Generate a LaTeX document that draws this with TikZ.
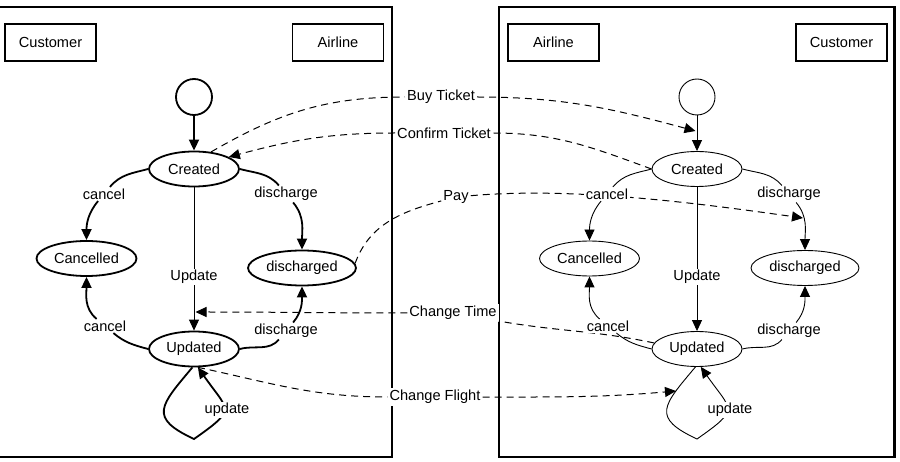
\documentclass[tikz,border=0pt]{standalone}
\usepackage{fontspec}
\setmainfont{Liberation Sans}
\usetikzlibrary{arrows.meta,shapes.geometric}
\begin{document}
\begin{tikzpicture}[x=1pt,y=1pt,
  every node/.style={font=\fontsize{14.6}{17}\selectfont},
  frame/.style={draw,line width=2.6pt},
  rolebox/.style={draw,line width=1.1pt,minimum width=91pt,minimum height=37pt,inner sep=0pt},
  stateL/.style={ellipse,draw,line width=1.8pt,minimum height=35pt,inner sep=0pt},
  stateR/.style={ellipse,draw,line width=0.9pt,minimum height=35pt,inner sep=0pt},
  initL/.style={circle,draw,line width=1.8pt,minimum size=36pt,inner sep=0pt},
  initR/.style={circle,draw,line width=0.9pt,minimum size=36pt,inner sep=0pt},
  tip/.style={-{Triangle[length=11pt,width=10pt]}},
  edgeL/.style={tip,line width=1.8pt},
  edgeR/.style={tip,line width=0.9pt},
  lab/.style={fill=white,inner sep=1.5pt},
  msg/.style={tip,dash pattern=on 7pt off 5pt,line width=1pt},
  msglab/.style={fill=white,inner sep=2pt}
]
\clip (0,0) rectangle (900,-462);
\fill[white] (0,0) rectangle (900,-462);
% frames
\draw[frame] (-5,-7) rectangle (392,-457);
\draw[frame] (499,-7) rectangle (894.5,-457);
% role boxes
\node[rolebox] (lcust) at (50.5,-42.5) {Customer};
\node[rolebox] (lair) at (338,-42.5) {Airline};
\node[rolebox] (rair) at (553.5,-42.5) {Airline};
\node[rolebox] (rcust) at (841.5,-42.5) {Customer};
% left states
\node[initL] (li) at (194,-97) {};
\node[stateL,minimum width=90pt] (lcr) at (194,-169) {Created};
\node[stateL,minimum width=100pt] (lca) at (86.5,-258.5) {Cancelled};
\node[stateL,minimum width=108pt] (ldi) at (302,-268) {discharged};
\node[stateL,minimum width=90pt] (lup) at (194,-349) {Updated};
% right states
\node[initR] (ri) at (697,-97) {};
\node[stateR,minimum width=90pt] (rcr) at (697,-169) {Created};
\node[stateR,minimum width=100pt] (rca) at (589.5,-258.5) {Cancelled};
\node[stateR,minimum width=108pt] (rdi) at (805,-268) {discharged};
\node[stateR,minimum width=90pt] (rup) at (697,-349) {Updated};
% message end points
\coordinate (btend) at (695.5,-131);
\coordinate (payend) at (803,-218);
\coordinate (ctend) at (195.5,-312);
\coordinate (cfend) at (676,-391);
% messages
\node[msglab] (bt) at (441,-97) {Buy Ticket};
\node[msglab] (ct) at (444,-133) {Confirm Ticket};
\node[msglab] (pay) at (456,-197) {Pay};
\node[msglab] (cti) at (453,-313) {Change Time};
\node[msglab] (cf) at (435,-397) {Change Flight};
\draw[msg] (lcr.45) to[out=30,in=180] (bt) to[out=0,in=165] (btend);
\draw[msg] (rcr.west) to[out=160,in=0] (ct) to[out=180,in=15] (lcr.19);
\draw[msg] (ldi.5) to[out=70,in=195] (pay) to[out=5,in=172,looseness=0.8] (payend);
\draw[msg] (rup.172) to[out=168,in=-10] (cti) to[out=180,in=0] (ctend);
\draw[msg] (lup.282) to[out=-12,in=180] (cf) to[out=0,in=185] (cfend);
% left solid edges
\draw[edgeL] (li) -- (lcr);
\draw[edgeR] (lcr) -- (lup);
\node[lab] (lupd) at (194,-277) {Update};
\node[lab] (lc1) at (104,-194) {cancel};
\node[lab] (ld1) at (286,-194) {discharge};
\node[lab] (lc2) at (105,-326) {cancel};
\node[lab] (ld2) at (286,-331) {discharge};
\draw[edgeL] (lcr.west) to[out=195,in=50] (lc1) to[out=230,in=90] (lca.north);
\draw[edgeL] (lcr.east) to[out=-15,in=130] (ld1) to[out=-50,in=90] (ldi.north);
\draw[edgeL] (lup.west) to[out=165,in=-40] (lc2) to[out=140,in=-90] (lca.south);
\draw[edgeL] (lup.east) to[out=15,in=-130] (ld2) to[out=50,in=-90] (ldi.south);
\coordinate (lbot) at (194,-439);
\draw[edgeL] (lup.265) to[out=-130,in=155,looseness=1.8] (lbot) to[out=35,in=-55,looseness=1.9] (lup.282);
\node[lab] (lu) at (227,-410) {update};
% right solid edges
\draw[edgeR] (ri) -- (rcr);
\draw[edgeR] (rcr) -- (rup);
\node[lab] (rupd) at (697,-277) {Update};
\node[lab] (rc1) at (607,-194) {cancel};
\node[lab] (rd1) at (789,-194) {discharge};
\node[lab] (rc2) at (608,-326) {cancel};
\node[lab] (rd2) at (789,-331) {discharge};
\draw[edgeR] (rcr.west) to[out=195,in=50] (rc1) to[out=230,in=90] (rca.north);
\draw[edgeR] (rcr.east) to[out=-15,in=130] (rd1) to[out=-50,in=90] (rdi.north);
\draw[edgeR] (rup.west) to[out=165,in=-40] (rc2) to[out=140,in=-90] (rca.south);
\draw[edgeR] (rup.east) to[out=15,in=-130] (rd2) to[out=50,in=-90] (rdi.south);
\coordinate (rbot) at (697,-439);
\draw[edgeR] (rup.265) to[out=-130,in=155,looseness=1.8] (rbot) to[out=35,in=-55,looseness=1.9] (rup.282);
\node[lab] (ru) at (730,-410) {update};
\end{tikzpicture}
\end{document}
